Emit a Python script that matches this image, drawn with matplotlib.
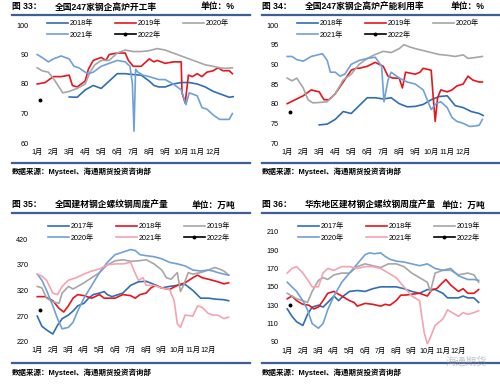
import matplotlib
matplotlib.use("Agg")
import matplotlib.pyplot as plt
from matplotlib.lines import Line2D

plt.rcParams['font.family'] = ['Liberation Sans', 'Noto Sans CJK SC']

W, H = 500, 386

# 月份刻度
months = list(range(1, 13))
month_labels = [f"{m}月" for m in months]

# 图33 全国247家钢企高炉开工率
m18_a = [3.0, 3.5, 4.0, 4.5, 5.0, 5.5, 6.0, 6.5, 7.0, 7.5, 8.0, 8.3, 8.6, 9.0, 9.5, 10.0, 10.5, 11.0, 11.5, 12.0, 12.5, 13.0, 13.25]
v18_a = [75.6, 75.5, 78.0, 79.5, 78.5, 81.0, 83.5, 83.5, 83.2, 83.0, 81.0, 79.5, 79.0, 79.0, 80.0, 80.5, 80.5, 80.0, 79.0, 77.5, 76.5, 75.5, 75.7]
m19_a = [1.0, 1.5, 2.0, 2.5, 3.0, 3.2, 3.5, 4.0, 4.2, 4.5, 5.0, 5.3, 5.5, 6.0, 6.5, 6.7, 7.0, 7.5, 8.0, 8.3, 8.5, 9.0, 9.5, 10.0, 10.05, 10.25, 10.45, 10.7, 11.0, 11.3, 11.6, 12.0, 12.3, 12.6, 13.0, 13.2]
v19_a = [80.0, 80.5, 82.5, 82.5, 83.0, 79.5, 79.0, 81.0, 85.0, 88.0, 89.0, 88.0, 90.0, 90.5, 90.5, 88.0, 86.0, 86.0, 88.5, 87.5, 88.0, 87.0, 87.5, 87.5, 77.0, 73.5, 83.0, 82.5, 83.5, 82.5, 84.0, 84.5, 85.5, 84.5, 84.5, 83.5]
m20_a = [1.0, 1.3, 1.7, 2.0, 2.3, 2.6, 3.0, 3.5, 4.0, 4.3, 4.6, 5.0, 5.5, 6.0, 6.5, 7.0, 7.5, 8.0, 8.5, 9.0, 9.5, 10.0, 10.5, 11.0, 11.5, 12.0, 12.4, 12.8, 13.2]
v20_a = [85.5, 84.5, 84.0, 82.0, 79.5, 77.0, 77.5, 78.5, 80.0, 84.0, 86.5, 88.0, 88.0, 90.5, 91.5, 91.0, 91.0, 91.3, 92.0, 91.5, 90.5, 89.5, 88.5, 87.5, 86.5, 86.0, 85.5, 85.3, 85.5]
m21_a = [1.0, 1.3, 1.7, 2.0, 2.5, 3.0, 3.3, 3.6, 4.0, 4.2, 4.5, 5.0, 5.5, 6.0, 6.5, 6.8, 6.95, 7.05, 7.15, 7.3, 7.6, 8.0, 8.3, 8.6, 9.0, 9.5, 10.0, 10.3, 10.5, 11.0, 11.3, 11.6, 12.0, 12.4, 12.7, 13.0, 13.2]
v21_a = [90.0, 89.0, 87.5, 88.5, 89.5, 88.5, 86.0, 85.5, 84.0, 83.5, 84.0, 86.0, 87.0, 88.0, 87.5, 86.0, 80.0, 64.0, 85.0, 84.0, 83.0, 82.5, 82.0, 81.5, 81.5, 80.0, 78.0, 73.0, 77.0, 76.0, 72.0, 71.5, 69.5, 68.0, 68.0, 68.0, 70.0]
m22_a = [1.2]
v22_a = [74.5]

# 图34 全国247家钢企高炉产能利用率
m18_b = [3.0, 3.5, 4.0, 4.5, 5.0, 5.5, 6.0, 6.5, 7.0, 7.5, 8.0, 8.5, 9.0, 9.5, 10.0, 10.5, 11.0, 11.5, 12.0, 12.5, 13.0, 13.25]
v18_b = [74.6, 74.8, 76.0, 78.0, 77.5, 79.5, 81.5, 81.5, 81.2, 81.5, 80.0, 79.2, 79.3, 79.8, 81.0, 81.8, 82.0, 79.5, 79.0, 78.0, 77.5, 77.0]
m19_b = [1.0, 1.5, 2.0, 2.5, 3.0, 3.3, 3.6, 4.0, 4.5, 5.0, 5.3, 5.5, 6.0, 6.5, 7.0, 7.3, 7.6, 8.0, 8.2, 8.4, 9.0, 9.3, 9.5, 10.0, 10.1, 10.25, 10.4, 10.6, 11.0, 11.3, 11.6, 12.0, 12.3, 12.6, 13.0, 13.2]
v19_b = [80.0, 81.0, 82.0, 83.5, 83.0, 81.0, 81.0, 82.5, 85.5, 88.5, 89.0, 89.0, 89.5, 90.5, 89.5, 87.0, 86.5, 86.5, 84.0, 88.0, 87.5, 88.0, 89.0, 88.5, 83.0, 75.5, 81.5, 83.5, 83.0, 83.5, 84.5, 85.0, 87.0, 86.0, 85.5, 85.5]
m20_b = [1.0, 1.3, 1.6, 2.0, 2.3, 2.6, 3.0, 3.5, 4.0, 4.5, 5.0, 5.5, 6.0, 6.5, 7.0, 7.5, 8.0, 8.3, 8.6, 9.0, 9.5, 10.0, 10.5, 11.0, 11.5, 12.0, 12.3, 12.7, 13.2]
v20_b = [86.5, 85.8, 86.5, 84.0, 81.0, 80.2, 80.3, 80.5, 82.5, 86.0, 87.5, 90.0, 91.5, 92.5, 93.3, 93.0, 94.0, 95.0, 94.5, 94.0, 93.5, 93.0, 92.5, 92.3, 92.0, 92.4, 91.5, 91.7, 92.0]
m21_b = [1.0, 1.3, 1.6, 2.0, 2.5, 3.0, 3.2, 3.5, 3.7, 4.0, 4.3, 4.6, 5.0, 5.5, 6.0, 6.5, 6.9, 7.05, 7.3, 7.5, 8.0, 8.5, 9.0, 9.5, 10.0, 10.3, 10.6, 11.0, 11.3, 11.6, 12.0, 12.4, 12.7, 13.0, 13.2]
v21_b = [92.0, 92.0, 91.2, 90.8, 92.0, 92.5, 92.7, 91.0, 88.0, 88.0, 87.0, 87.5, 90.0, 91.0, 91.5, 91.8, 89.5, 80.5, 86.0, 88.0, 86.5, 85.5, 85.0, 83.5, 78.5, 80.0, 80.5, 79.0, 76.5, 75.5, 75.0, 74.2, 74.3, 74.5, 76.0]
m22_b = [1.2]
v22_b = [78.0]

# 图35 全国建材钢企螺纹钢周度产量
m17_c = [1.0, 1.3, 1.6, 2.0, 2.3, 2.6, 3.0, 3.3, 3.6, 4.0, 4.3, 4.6, 5.0, 5.3, 5.5, 5.8, 6.0, 6.5, 7.0, 7.5, 8.0, 8.5, 9.0, 9.5, 10.0, 10.5, 11.0, 11.5, 12.0, 12.5, 13.0, 13.3]
v17_c = [270, 250, 243, 235, 252, 265, 272, 280, 290, 295, 305, 312, 315, 318, 312, 308, 310, 315, 330, 337, 338, 332, 325, 328, 330, 332, 320, 305, 305, 303, 302, 300]
m18_c = [1.0, 1.5, 2.0, 2.4, 2.7, 3.0, 3.3, 3.6, 4.0, 4.5, 5.0, 5.3, 5.5, 6.0, 6.5, 7.0, 7.3, 7.6, 8.0, 8.3, 8.6, 9.0, 9.5, 10.0, 10.5, 11.0, 11.3, 11.6, 12.0, 12.5, 13.0, 13.3]
v18_c = [308, 308, 300, 285, 278, 290, 305, 312, 310, 305, 312, 305, 305, 305, 312, 310, 305, 312, 315, 325, 330, 325, 322, 330, 335, 345, 350, 345, 342, 338, 333, 335]
m19_c = [1.0, 1.3, 1.6, 2.0, 2.4, 2.6, 3.0, 3.3, 3.6, 4.0, 4.5, 5.0, 5.5, 6.0, 6.5, 7.0, 7.5, 8.0, 8.5, 9.0, 9.3, 9.6, 10.0, 10.2, 10.4, 10.7, 11.0, 11.5, 12.0, 12.4, 12.7, 13.0, 13.3]
v19_c = [328, 325, 305, 298, 295, 315, 328, 323, 328, 335, 345, 355, 370, 378, 380, 377, 378, 380, 372, 360, 345, 342, 355, 318, 330, 355, 352, 355, 360, 365, 362, 358, 350]
m20_c = [1.0, 1.3, 1.6, 2.0, 2.3, 2.6, 3.0, 3.3, 3.6, 4.0, 4.5, 5.0, 5.5, 6.0, 6.5, 7.0, 7.3, 7.6, 8.0, 8.5, 9.0, 9.5, 10.0, 10.5, 11.0, 11.5, 12.0, 12.3, 12.6, 13.0, 13.3]
v20_c = [352, 340, 320, 290, 265, 245, 248, 258, 280, 305, 330, 355, 375, 390, 395, 400, 398, 390, 388, 386, 382, 375, 372, 368, 360, 358, 360, 358, 355, 352, 350]
m21_c = [1.0, 1.3, 1.6, 2.0, 2.3, 2.6, 3.0, 3.5, 4.0, 4.5, 5.0, 5.5, 6.0, 6.5, 7.0, 7.2, 7.5, 7.8, 8.0, 8.5, 9.0, 9.5, 9.8, 10.0, 10.2, 10.5, 11.0, 11.3, 11.6, 12.0, 12.3, 12.6, 13.0, 13.3]
v21_c = [352, 348, 340, 315, 312, 328, 340, 345, 352, 358, 362, 370, 372, 372, 375, 360, 340, 345, 330, 330, 325, 322, 300, 255, 248, 272, 270, 290, 287, 275, 272, 272, 265, 268]
m22_c = [1.15]
v22_c = [282]

# 图36 华东地区建材钢企螺纹钢周度产量
m17_d = [1.0, 1.3, 1.6, 2.0, 2.3, 2.6, 3.0, 3.3, 3.6, 4.0, 4.3, 4.6, 5.0, 5.5, 6.0, 6.5, 7.0, 7.5, 8.0, 8.5, 9.0, 9.5, 10.0, 10.5, 11.0, 11.3, 11.6, 12.0, 12.3, 12.6, 13.0, 13.3]
v17_d = [126, 118, 112, 108, 120, 128, 130, 128, 133, 140, 135, 140, 145, 146, 145, 148, 150, 150, 150, 148, 145, 143, 147, 147, 143, 138, 138, 138, 140, 138, 138, 133]
m18_d = [1.0, 1.3, 1.6, 2.0, 2.4, 2.7, 3.0, 3.3, 3.6, 4.0, 4.5, 5.0, 5.3, 5.5, 6.0, 6.5, 7.0, 7.3, 7.6, 8.0, 8.3, 8.6, 9.0, 9.5, 10.0, 10.3, 10.6, 11.0, 11.2, 11.5, 12.0, 12.3, 12.6, 13.0, 13.3]
v18_d = [137, 140, 135, 131, 130, 126, 128, 135, 143, 145, 140, 135, 133, 129, 132, 131, 129, 131, 130, 135, 141, 141, 142, 143, 140, 147, 148, 155, 158, 152, 145, 148, 143, 143, 147]
m19_d = [1.0, 1.3, 1.6, 2.0, 2.3, 2.6, 3.0, 3.3, 3.6, 4.0, 4.5, 5.0, 5.5, 6.0, 6.5, 7.0, 7.5, 8.0, 8.5, 9.0, 9.5, 10.0, 10.2, 10.5, 11.0, 11.5, 12.0, 12.3, 12.6, 13.0, 13.3]
v19_d = [143, 140, 137, 135, 133, 145, 157, 160, 158, 163, 165, 165, 172, 175, 173, 171, 175, 175, 172, 165, 160, 155, 145, 165, 168, 168, 163, 164, 165, 163, 155]
m20_d = [1.0, 1.3, 1.6, 2.0, 2.3, 2.6, 3.0, 3.3, 3.6, 4.0, 4.5, 5.0, 5.5, 6.0, 6.3, 6.6, 7.0, 7.3, 7.6, 8.0, 8.5, 9.0, 9.5, 10.0, 10.5, 11.0, 11.5, 12.0, 12.3, 12.6, 13.0, 13.3]
v20_d = [155, 150, 145, 135, 125, 110, 105, 110, 125, 140, 155, 165, 175, 185, 187, 186, 187, 183, 180, 178, 177, 175, 173, 175, 170, 168, 170, 162, 160, 158, 158, 157]
m21_d = [1.0, 1.3, 1.6, 2.0, 2.3, 2.6, 3.0, 3.3, 3.6, 4.0, 4.5, 5.0, 5.5, 6.0, 6.5, 7.0, 7.5, 8.0, 8.5, 9.0, 9.5, 9.8, 10.0, 10.2, 10.5, 11.0, 11.3, 11.6, 12.0, 12.3, 12.6, 13.0, 13.3]
v21_d = [165, 170, 172, 165, 158, 150, 150, 165, 170, 168, 172, 172, 170, 172, 172, 170, 165, 160, 150, 140, 135, 100, 88, 95, 108, 115, 125, 122, 118, 122, 120, 122, 124]
m22_d = [1.15]
v22_d = [130]

DARK = "#2F6EB5"
LIGHT = "#6FA0D8"
RED = "#E5161C"
GRAY = "#A6A6A6"
PINK = "#F5A3AF"
RULE = "#3C5F94"

fig = plt.figure(figsize=(W / 100, H / 100), dpi=100)


def px_axes(left, top, right, bottom):
    return fig.add_axes([left / W, 1 - bottom / H, (right - left) / W, (bottom - top) / H])


def header(x0, y_title, y_rule, num, title, unit):
    fig.text((x0 + 12) / W, 1 - y_title / H, f"图 {num}：", fontsize=6.3, fontweight='bold', va='center')
    fig.text((x0 + 55) / W, 1 - y_title / H, title, fontsize=6.3, fontweight='bold', va='center')
    fig.text((x0 + 235) / W, 1 - y_title / H, f"单位：{unit}", fontsize=6.3, fontweight='bold', va='center', ha='right')
    fig.add_artist(Line2D([(x0 + 12) / W, (x0 + 250) / W], [1 - y_rule / H] * 2, color=RULE, lw=1.6))


def footer(x0, y_rule, y_text):
    fig.add_artist(Line2D([(x0 + 12) / W, (x0 + 250) / W], [1 - y_rule / H] * 2, color=RULE, lw=1.6))
    fig.text((x0 + 12) / W, 1 - y_text / H, "数据来源：Mysteel、海通期货投资咨询部", fontsize=5.4, fontweight='bold', va='center')


def style_axes(ax, xlim, ylim, yticks):
    ax.set_xlim(*xlim)
    ax.set_ylim(*ylim)
    ax.set_yticks(yticks)
    ax.set_xticks(months)
    ax.set_xticklabels(month_labels)
    for s in ax.spines.values():
        s.set_visible(False)
    ax.tick_params(length=0, labelsize=5.2, pad=4)
    ax.patch.set_alpha(0)


def draw(ax, series, legend_top, order):
    handles = []
    for x, y, c, lab in series:
        if lab == "2022年":
            h, = ax.plot(x, y, color="black", lw=1.2, marker='o', markersize=1.8, label=lab, clip_on=False)
        else:
            h, = ax.plot(x, y, color=c, lw=1.2, label=lab, clip_on=False)
        handles.append(h)
    hs = [handles[i] for i in order]
    ax.legend(handles=hs, labels=[h.get_label() for h in hs], ncol=3, loc='upper left',
              bbox_to_anchor=(legend_top[0] / W, 1 - legend_top[1] / H), bbox_transform=fig.transFigure,
              frameon=False, fontsize=5.2, handlelength=2.9, handletextpad=0.25, columnspacing=3.0,
              labelspacing=0.55, borderpad=0, borderaxespad=0)


# 图33
ax = px_axes(34, 25, 238, 143)
style_axes(ax, (0.8, 13.55), (60, 100), [60, 70, 80, 90, 100])
draw(ax, [(m18_a, v18_a, DARK, "2018年"), (m19_a, v19_a, RED, "2019年"), (m20_a, v20_a, GRAY, "2020年"),
          (m21_a, v21_a, LIGHT, "2021年"), (m22_a, v22_a, "black", "2022年")], (47, 20), [0, 3, 1, 4, 2])
header(0, 7, 15, 33, "全国247家钢企高炉开工率", "%")
footer(0, 163, 172)

# 图34
ax = px_axes(284, 25, 488, 143)
style_axes(ax, (0.8, 13.55), (70, 100), [70, 75, 80, 85, 90, 95, 100])
draw(ax, [(m18_b, v18_b, DARK, "2018年"), (m19_b, v19_b, RED, "2019年"), (m20_b, v20_b, GRAY, "2020年"),
          (m21_b, v21_b, LIGHT, "2021年"), (m22_b, v22_b, "black", "2022年")], (297, 20), [0, 3, 1, 4, 2])
header(250, 7, 15, 34, "全国247家钢企高炉产能利用率", "%")
footer(250, 163, 172)

# 图35
ax = px_axes(34, 239.3, 238, 341.7)
style_axes(ax, (0.79, 13.9), (220, 420), [220, 270, 320, 370, 420])
draw(ax, [(m17_c, v17_c, DARK, "2017年"), (m18_c, v18_c, RED, "2018年"), (m19_c, v19_c, GRAY, "2019年"),
          (m20_c, v20_c, LIGHT, "2020年"), (m21_c, v21_c, PINK, "2021年"), (m22_c, v22_c, "black", "2022年")],
     (48, 223), [0, 3, 1, 4, 2, 5])
header(0, 205, 213, 35, "全国建材钢企螺纹钢周度产量", "万吨")
footer(0, 363, 372.5)

# 图36
ax = px_axes(284, 231.7, 488, 342)
style_axes(ax, (0.79, 13.9), (90, 210), [90, 110, 130, 150, 170, 190, 210])
draw(ax, [(m17_d, v17_d, DARK, "2017年"), (m18_d, v18_d, RED, "2018年"), (m19_d, v19_d, GRAY, "2019年"),
          (m20_d, v20_d, LIGHT, "2020年"), (m21_d, v21_d, PINK, "2021年"), (m22_d, v22_d, "black", "2022年")],
     (298, 223), [0, 3, 1, 4, 2, 5])
header(250, 205, 213, 36, "华东地区建材钢企螺纹钢周度产量", "万吨")
footer(250, 363, 372.5)

# 水印
fig.text(466 / W, 1 - 362 / H, "海通期货", fontsize=7.5, color="#9A9A9A", alpha=0.6, ha='center', va='center')

fig.savefig("out.png", dpi=100)
